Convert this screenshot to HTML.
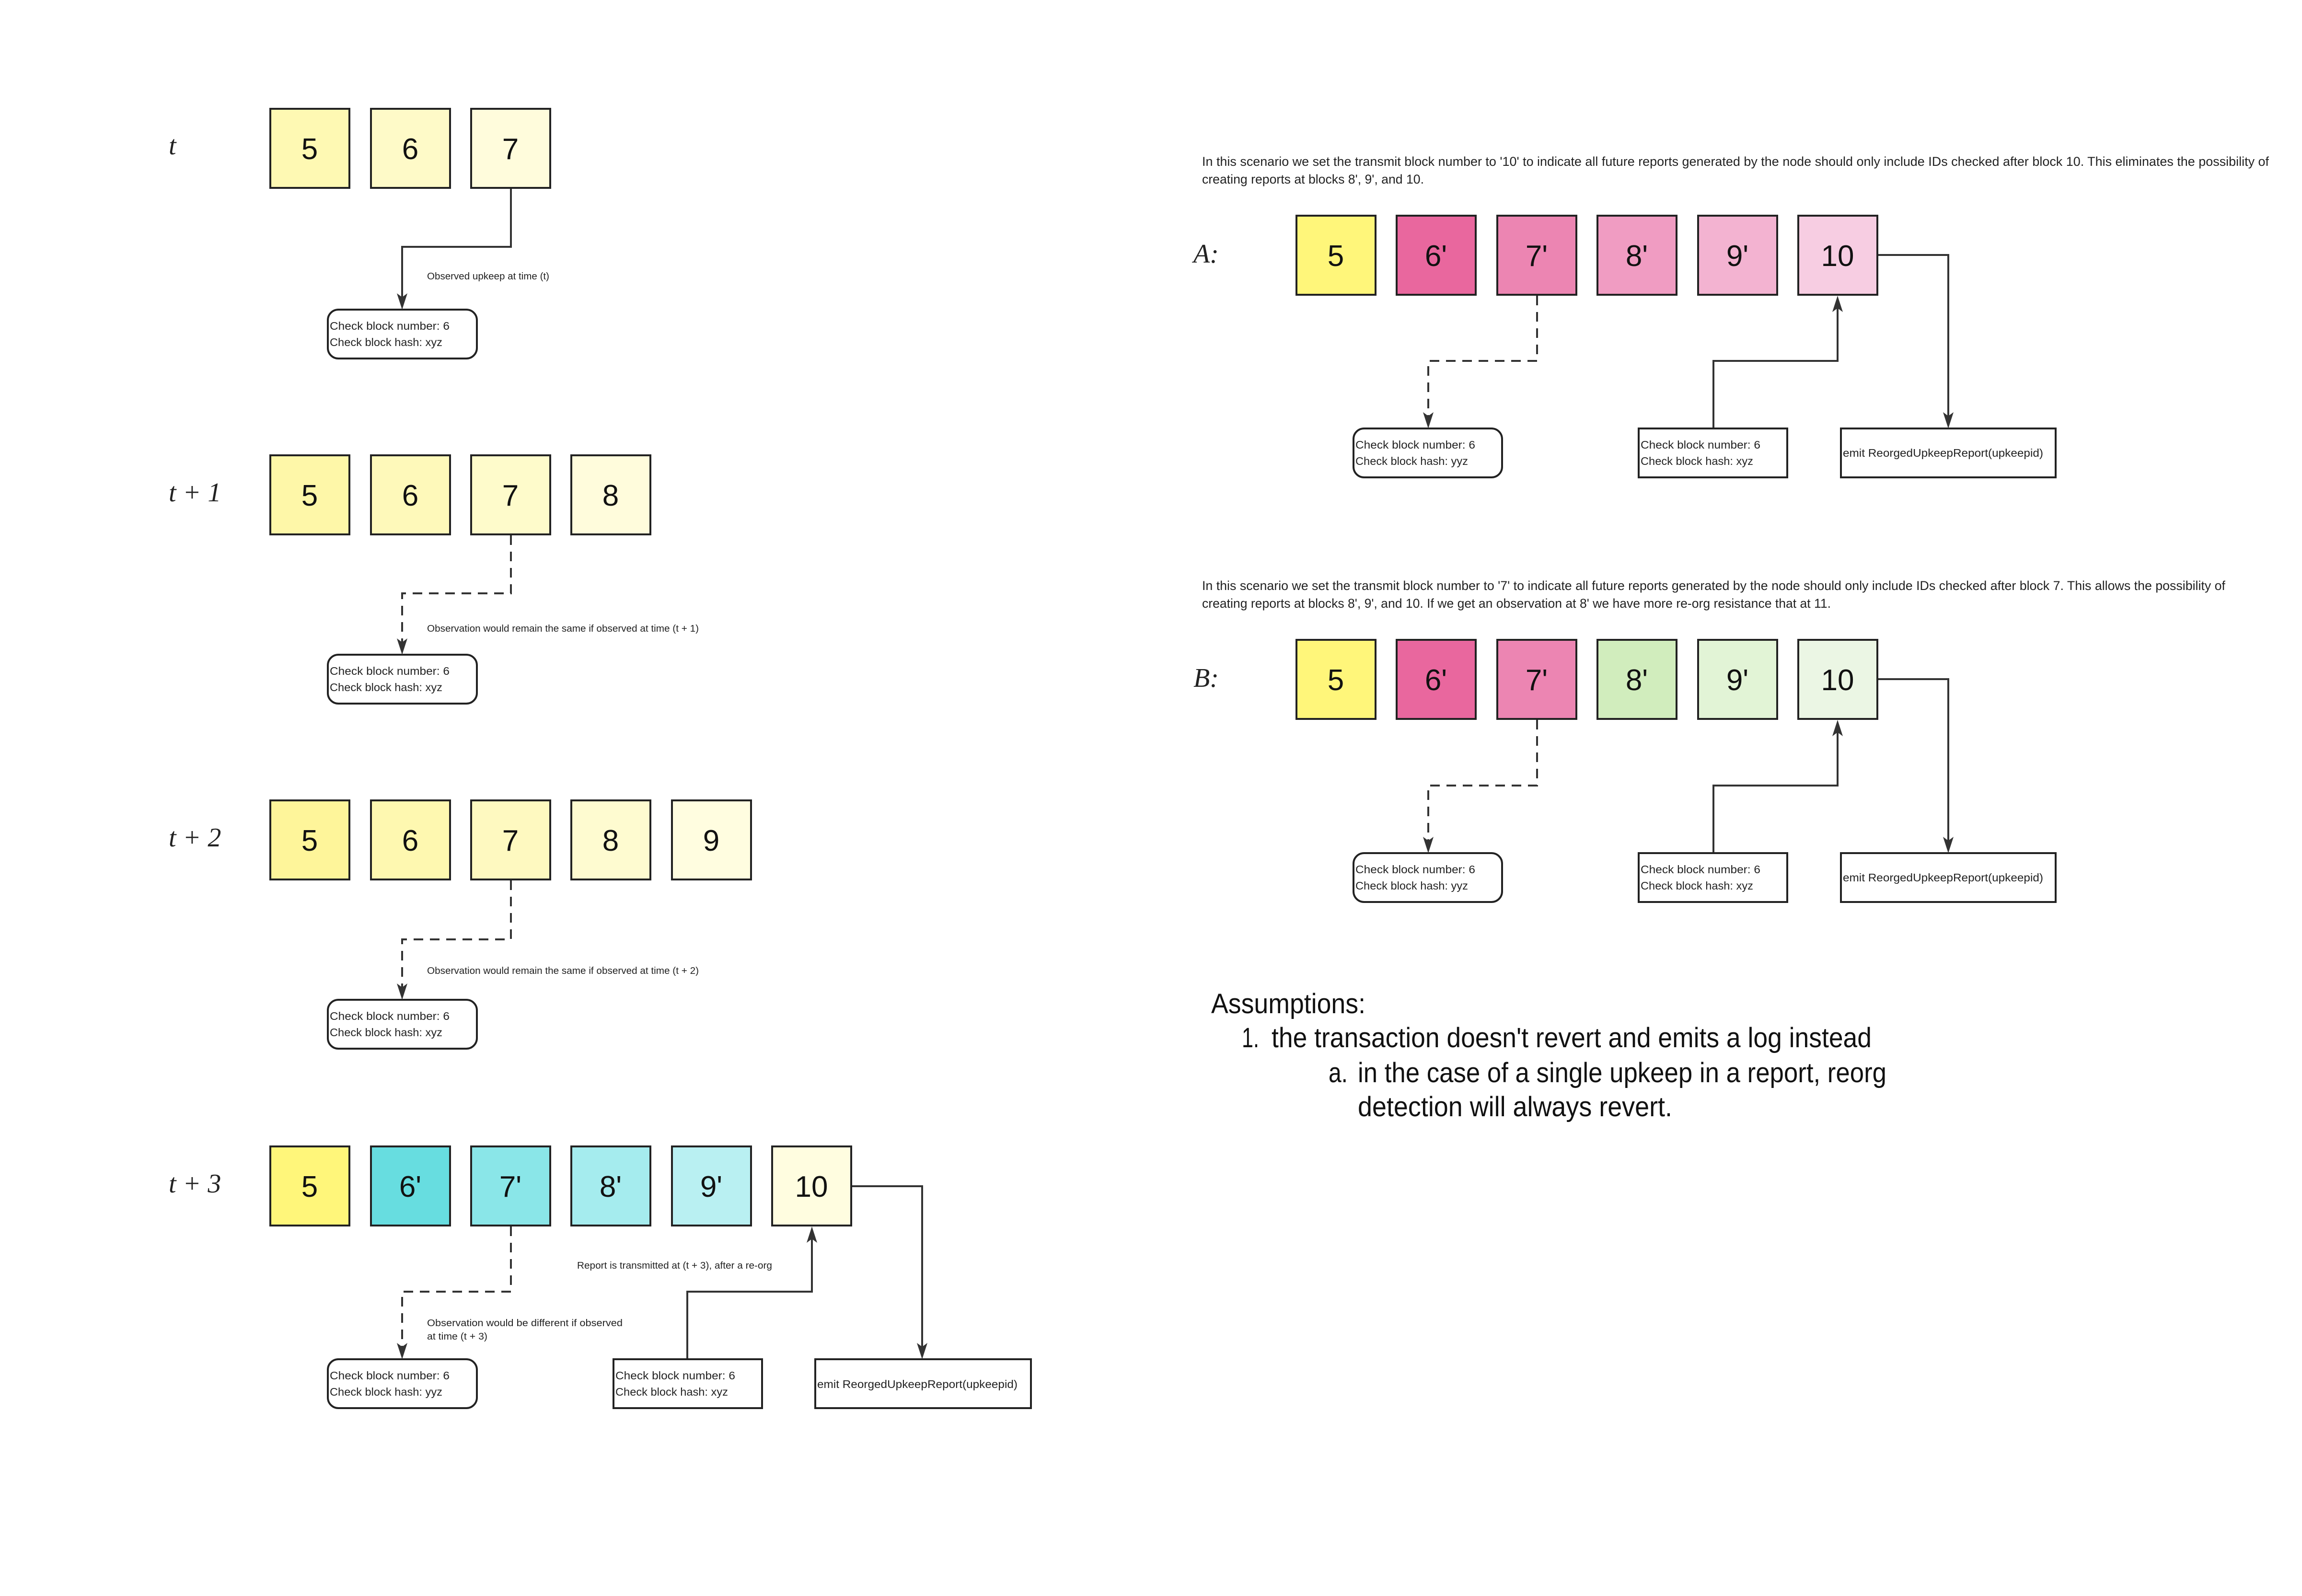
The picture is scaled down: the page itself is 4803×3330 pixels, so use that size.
<!DOCTYPE html>
<html><head><meta charset="utf-8"><style>html,body{margin:0;padding:0;background:#fff}svg{display:block}</style></head>
<body>
<svg xmlns="http://www.w3.org/2000/svg" width="4803" height="3330" viewBox="0 0 4803 3330" font-family="Liberation Sans, sans-serif">
<rect width="4803" height="3330" fill="#fff"/>
<defs>
<g id="ad"><polygon points="-11,-34 0,0 11,-34 0,-26" fill="#333"/></g>
<g id="au"><polygon points="-11,34 0,0 11,34 0,26" fill="#333"/></g>
</defs>
<g stroke="#222" stroke-width="4">
<!-- row t -->
<rect x="564" y="227" width="165" height="165" fill="#fef9b3"/>
<rect x="774" y="227" width="165" height="165" fill="#fefac8"/>
<rect x="983" y="227" width="165" height="165" fill="#fffcdc"/>
<!-- row t+1 -->
<rect x="564" y="950" width="165" height="165" fill="#fef7a8"/>
<rect x="774" y="950" width="165" height="165" fill="#fef9ba"/>
<rect x="983" y="950" width="165" height="165" fill="#fefbcb"/>
<rect x="1192" y="950" width="165" height="165" fill="#fffcdc"/>
<!-- row t+2 -->
<rect x="564" y="1670" width="165" height="165" fill="#fef59a"/>
<rect x="774" y="1670" width="165" height="165" fill="#fef8b0"/>
<rect x="983" y="1670" width="165" height="165" fill="#fef9c0"/>
<rect x="1192" y="1670" width="165" height="165" fill="#fefbd0"/>
<rect x="1402" y="1670" width="165" height="165" fill="#fffde0"/>
<!-- row t+3 -->
<rect x="564" y="2392" width="165" height="165" fill="#fff67a"/>
<rect x="774" y="2392" width="165" height="165" fill="#67dde0"/>
<rect x="983" y="2392" width="165" height="165" fill="#8ae6e8"/>
<rect x="1192" y="2392" width="165" height="165" fill="#a5ecee"/>
<rect x="1402" y="2392" width="165" height="165" fill="#b9f0f2"/>
<rect x="1611" y="2392" width="165" height="165" fill="#fffde0"/>
<!-- A -->
<rect x="2705" y="450" width="165" height="165" fill="#fff67a"/>
<rect x="2914" y="450" width="165" height="165" fill="#e9679e"/>
<rect x="3124" y="450" width="165" height="165" fill="#ec85b2"/>
<rect x="3333" y="450" width="165" height="165" fill="#f09cc2"/>
<rect x="3543" y="450" width="165" height="165" fill="#f3b3d1"/>
<rect x="3752" y="450" width="165" height="165" fill="#f7cde2"/>
<!-- B -->
<rect x="2705" y="1335" width="165" height="165" fill="#fff67a"/>
<rect x="2914" y="1335" width="165" height="165" fill="#e9679e"/>
<rect x="3124" y="1335" width="165" height="165" fill="#ec85b2"/>
<rect x="3333" y="1335" width="165" height="165" fill="#d1edbd"/>
<rect x="3543" y="1335" width="165" height="165" fill="#e2f4d6"/>
<rect x="3752" y="1335" width="165" height="165" fill="#ebf6e4"/>
<!-- check boxes -->
<rect x="684" y="646" width="311" height="102" rx="22" fill="#fff"/>
<rect x="684" y="1366" width="311" height="102" rx="22" fill="#fff"/>
<rect x="684" y="2086" width="311" height="102" rx="22" fill="#fff"/>
<rect x="684" y="2836" width="311" height="102" rx="22" fill="#fff"/>
<rect x="1280" y="2836" width="310" height="102" fill="#fff"/>
<rect x="1701" y="2836" width="450" height="102" fill="#fff"/>
<rect x="2824" y="894" width="310" height="102" rx="22" fill="#fff"/>
<rect x="3419" y="894" width="310" height="102" fill="#fff"/>
<rect x="3841" y="894" width="448" height="102" fill="#fff"/>
<rect x="2824" y="1780" width="310" height="102" rx="22" fill="#fff"/>
<rect x="3419" y="1780" width="310" height="102" fill="#fff"/>
<rect x="3841" y="1780" width="448" height="102" fill="#fff"/>
</g>
<!-- connectors -->
<g stroke="#333" stroke-width="4" fill="none">
<path d="M1066 394 V515 H839 V620"/>
<path d="M1066 1117 V1238 H839 V1340" stroke-dasharray="20 14"/>
<path d="M1066 1837 V1960 H839 V2060" stroke-dasharray="20 14"/>
<path d="M1066 2559 V2695 H839 V2810" stroke-dasharray="20 14"/>
<path d="M1434 2834 V2695 H1694 V2585"/>
<path d="M1778 2475 H1924 V2810"/>
<path d="M3207 617 V753 H2980 V868" stroke-dasharray="20 14"/>
<path d="M3575 892 V753 H3834 V643"/>
<path d="M3919 532 H4065 V868"/>
<path d="M3207 1502 V1639 H2980 V1754" stroke-dasharray="20 14"/>
<path d="M3575 1778 V1639 H3834 V1528"/>
<path d="M3919 1417 H4065 V1754"/>
</g>
<use href="#ad" x="839" y="646"/>
<use href="#ad" x="839" y="1366"/>
<use href="#ad" x="839" y="2086"/>
<use href="#ad" x="839" y="2836"/>
<use href="#au" x="1694" y="2559"/>
<use href="#ad" x="1924" y="2836"/>
<use href="#ad" x="2980" y="894"/>
<use href="#au" x="3834" y="617"/>
<use href="#ad" x="4065" y="894"/>
<use href="#ad" x="2980" y="1780"/>
<use href="#au" x="3834" y="1502"/>
<use href="#ad" x="4065" y="1780"/>

<!-- block numbers -->
<g font-size="62" fill="#111" text-anchor="middle">
<text x="646" y="332">5</text><text x="856" y="332">6</text><text x="1065" y="332">7</text>
<text x="646" y="1055">5</text><text x="856" y="1055">6</text><text x="1065" y="1055">7</text><text x="1274" y="1055">8</text>
<text x="646" y="1775">5</text><text x="856" y="1775">6</text><text x="1065" y="1775">7</text><text x="1274" y="1775">8</text><text x="1484" y="1775">9</text>
<text x="646" y="2497">5</text><text x="856" y="2497">6'</text><text x="1065" y="2497">7'</text><text x="1274" y="2497">8'</text><text x="1484" y="2497">9'</text><text x="1693" y="2497">10</text>
<text x="2787" y="555">5</text><text x="2996" y="555">6'</text><text x="3206" y="555">7'</text><text x="3415" y="555">8'</text><text x="3625" y="555">9'</text><text x="3834" y="555">10</text>
<text x="2787" y="1440">5</text><text x="2996" y="1440">6'</text><text x="3206" y="1440">7'</text><text x="3415" y="1440">8'</text><text x="3625" y="1440">9'</text><text x="3834" y="1440">10</text>
</g>
<!-- row labels -->
<g font-family="Liberation Serif, serif" font-style="italic" font-size="56" fill="#222">
<text x="352" y="322">t</text>
<text x="352" y="1046">t + 1</text>
<text x="352" y="1766">t + 2</text>
<text x="352" y="2488">t + 3</text>
<text x="2490" y="548">A:</text>
<text x="2490" y="1433">B:</text>
</g>
<!-- small labels -->
<g font-size="20" fill="#222" lengthAdjust="spacingAndGlyphs">
<text x="891" y="583" textLength="255" lengthAdjust="spacingAndGlyphs">Observed upkeep at time (t)</text>
<text x="891" y="1318" textLength="567" lengthAdjust="spacingAndGlyphs">Observation would remain the same if observed at time (t + 1)</text>
<text x="891" y="2032" textLength="567" lengthAdjust="spacingAndGlyphs">Observation would remain the same if observed at time (t + 2)</text>
<text x="1204" y="2647" textLength="407" lengthAdjust="spacingAndGlyphs">Report is transmitted at (t + 3), after a re-org</text>
<text x="891" y="2767" textLength="408" lengthAdjust="spacingAndGlyphs">Observation would be different if observed</text>
<text x="891" y="2795" textLength="126" lengthAdjust="spacingAndGlyphs">at time (t + 3)</text>
</g>
<g font-size="23" fill="#222">
<text x="688" y="688" textLength="250" lengthAdjust="spacingAndGlyphs">Check block number: 6</text>
<text x="688" y="722" textLength="235" lengthAdjust="spacingAndGlyphs">Check block hash: xyz</text>
<text x="688" y="1408" textLength="250" lengthAdjust="spacingAndGlyphs">Check block number: 6</text>
<text x="688" y="1442" textLength="235" lengthAdjust="spacingAndGlyphs">Check block hash: xyz</text>
<text x="688" y="2128" textLength="250" lengthAdjust="spacingAndGlyphs">Check block number: 6</text>
<text x="688" y="2162" textLength="235" lengthAdjust="spacingAndGlyphs">Check block hash: xyz</text>
<text x="688" y="2878" textLength="250" lengthAdjust="spacingAndGlyphs">Check block number: 6</text>
<text x="688" y="2912" textLength="235" lengthAdjust="spacingAndGlyphs">Check block hash: yyz</text>
<text x="1284" y="2878" textLength="250" lengthAdjust="spacingAndGlyphs">Check block number: 6</text>
<text x="1284" y="2912" textLength="235" lengthAdjust="spacingAndGlyphs">Check block hash: xyz</text>
<text x="1705" y="2896" textLength="418" lengthAdjust="spacingAndGlyphs">emit ReorgedUpkeepReport(upkeepid)</text>
<text x="2828" y="936" textLength="250" lengthAdjust="spacingAndGlyphs">Check block number: 6</text>
<text x="2828" y="970" textLength="235" lengthAdjust="spacingAndGlyphs">Check block hash: yyz</text>
<text x="3423" y="936" textLength="250" lengthAdjust="spacingAndGlyphs">Check block number: 6</text>
<text x="3423" y="970" textLength="235" lengthAdjust="spacingAndGlyphs">Check block hash: xyz</text>
<text x="3845" y="953" textLength="418" lengthAdjust="spacingAndGlyphs">emit ReorgedUpkeepReport(upkeepid)</text>
<text x="2828" y="1822" textLength="250" lengthAdjust="spacingAndGlyphs">Check block number: 6</text>
<text x="2828" y="1856" textLength="235" lengthAdjust="spacingAndGlyphs">Check block hash: yyz</text>
<text x="3423" y="1822" textLength="250" lengthAdjust="spacingAndGlyphs">Check block number: 6</text>
<text x="3423" y="1856" textLength="235" lengthAdjust="spacingAndGlyphs">Check block hash: xyz</text>
<text x="3845" y="1839" textLength="418" lengthAdjust="spacingAndGlyphs">emit ReorgedUpkeepReport(upkeepid)</text>
</g>
<!-- paragraphs -->
<g font-size="27" fill="#222">
<text x="2508" y="346" textLength="2226" lengthAdjust="spacingAndGlyphs">In this scenario we set the transmit block number to '10' to indicate all future reports generated by the node should only include IDs checked after block 10. This eliminates the possibility of</text>
<text x="2508" y="383" textLength="463" lengthAdjust="spacingAndGlyphs">creating reports at blocks 8', 9', and 10.</text>
<text x="2508" y="1231" textLength="2135" lengthAdjust="spacingAndGlyphs">In this scenario we set the transmit block number to '7' to indicate all future reports generated by the node should only include IDs checked after block 7. This allows the possibility of</text>
<text x="2508" y="1268" textLength="1312" lengthAdjust="spacingAndGlyphs">creating reports at blocks 8', 9', and 10. If we get an observation at 8' we have more re-org resistance that at 11.</text>
</g>
<!-- assumptions -->
<g font-size="58" fill="#111">
<text x="2527" y="2114" textLength="322" lengthAdjust="spacingAndGlyphs">Assumptions:</text>
<text x="2591" y="2185" textLength="36" lengthAdjust="spacingAndGlyphs">1.</text>
<text x="2653" y="2185" textLength="1252" lengthAdjust="spacingAndGlyphs">the transaction doesn't revert and emits a log instead</text>
<text x="2772" y="2258" textLength="40" lengthAdjust="spacingAndGlyphs">a.</text>
<text x="2833" y="2258" textLength="1103" lengthAdjust="spacingAndGlyphs">in the case of a single upkeep in a report, reorg</text>
<text x="2833" y="2329" textLength="656" lengthAdjust="spacingAndGlyphs">detection will always revert.</text>
</g>
</svg>
</body></html>
